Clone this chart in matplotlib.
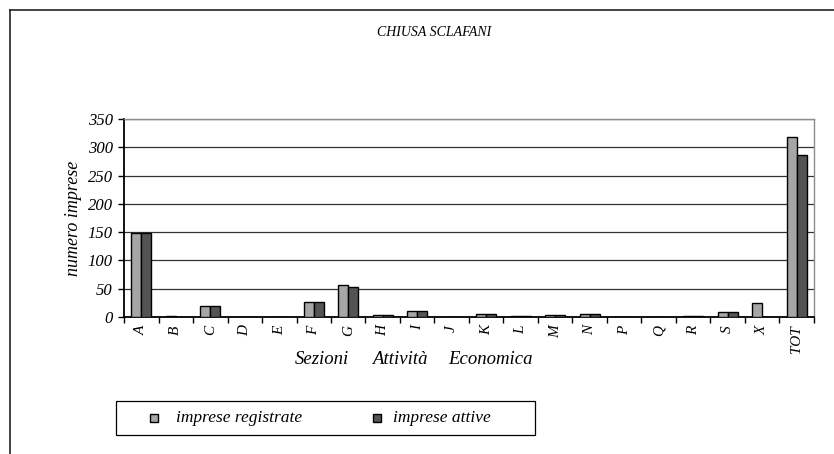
import matplotlib
matplotlib.use("Agg")
import matplotlib.pyplot as plt
from matplotlib.lines import Line2D
from matplotlib.patches import Rectangle
import numpy as np

categories = ["A", "B", "C", "D", "E", "F", "G", "H", "I", "J", "K", "L",
              "M", "N", "P", "Q", "R", "S", "X", "TOT"]
registrate = [148, 1, 20, 0, 0, 26, 57, 3, 10, 0, 5, 2, 3, 5, 0, 0, 2, 8, 25, 318]
attive = [148, 0, 19, 0, 0, 26, 53, 3, 10, 0, 5, 2, 3, 5, 0, 0, 2, 8, 0, 286]
yticks = [0, 50, 100, 150, 200, 250, 300, 350]
title = "CHIUSA SCLAFANI"
ylabel = "numero imprese"
xlabel_words = ["Sezioni", "Attività", "Economica"]
series_names = ["imprese registrate", "imprese attive"]
series_colors = ["#a6a6a6", "#545454"]

FONT = "Liberation Serif"
plt.rcParams["font.family"] = [FONT, "DejaVu Serif"]
plt.rcParams["font.style"] = "italic"

W, H = 834, 454
fig = plt.figure(figsize=(W / 100, H / 100), dpi=100)

def fx(px):
    return px / W

def fy(py):
    return 1 - py / H

# outer frame (top and left lines)
fig.add_artist(Line2D([fx(10), fx(10)], [0, fy(10)], color="#222222", lw=1.2,
                      transform=fig.transFigure))
fig.add_artist(Line2D([fx(10), 1], [fy(10), fy(10)], color="#222222", lw=1.2,
                      transform=fig.transFigure))

left, right, top, bottom = 124, 814, 119, 317
ax = fig.add_axes([fx(left), fy(bottom), (right - left) / W, (bottom - top) / H])

x = np.arange(len(categories))
bw = 0.29
ax.bar(x - bw / 2, registrate, width=bw, color=series_colors[0], edgecolor="black",
       linewidth=1.0, zorder=3, label=series_names[0])
ax.bar(x + bw / 2, attive, width=bw, color=series_colors[1], edgecolor="black",
       linewidth=1.0, zorder=3, label=series_names[1])

ax.set_xlim(-0.5, len(categories) - 0.5)
ax.set_ylim(0, 350)
ax.set_yticks(yticks)
ax.set_yticklabels([str(v) for v in yticks], fontsize=12, style="italic")
ax.yaxis.grid(True, color="#333333", linewidth=0.9, zorder=0)
ax.set_axisbelow(True)

ax.set_xticks(x)
ax.set_xticklabels(categories, rotation=90, fontsize=11, style="italic")
ax.tick_params(axis="x", length=0, pad=6)
ax.set_xticks(np.arange(len(categories) + 1) - 0.5, minor=True)
ax.tick_params(axis="x", which="minor", length=4, width=1, color="black", direction="out")
ax.tick_params(axis="y", length=4, width=1, direction="out", pad=4)

for s in ["left", "bottom"]:
    ax.spines[s].set_color("black")
    ax.spines[s].set_linewidth(1.3)
for s in ["right", "top"]:
    ax.spines[s].set_color("#8c8c8c")
    ax.spines[s].set_linewidth(1.0)

ax.set_ylabel(ylabel, fontsize=13, style="italic", labelpad=4)

fig.text(fx(434), fy(33), title, ha="center", va="center", fontsize=10, style="italic")

xl_pos = [322, 400, 490]
for w, px in zip(xlabel_words, xl_pos):
    fig.text(fx(px), fy(360), w, ha="center", va="center", fontsize=13.5, style="italic")

# legend box
fig.add_artist(Rectangle((fx(116), fy(435)), (535 - 116) / W, (435 - 401) / H,
                         transform=fig.transFigure, facecolor="white",
                         edgecolor="black", linewidth=0.9))
sq_x = [150, 373]
txt_x = [176, 393]
for name, col, sx, tx in zip(series_names, series_colors, sq_x, txt_x):
    fig.add_artist(Rectangle((fx(sx), fy(422)), 8 / W, 8 / H, transform=fig.transFigure,
                             facecolor=col, edgecolor="black", linewidth=1.0))
    fig.text(fx(tx), fy(418), name, ha="left", va="center", fontsize=12.5, style="italic")

fig.savefig("out.png", dpi=100)
